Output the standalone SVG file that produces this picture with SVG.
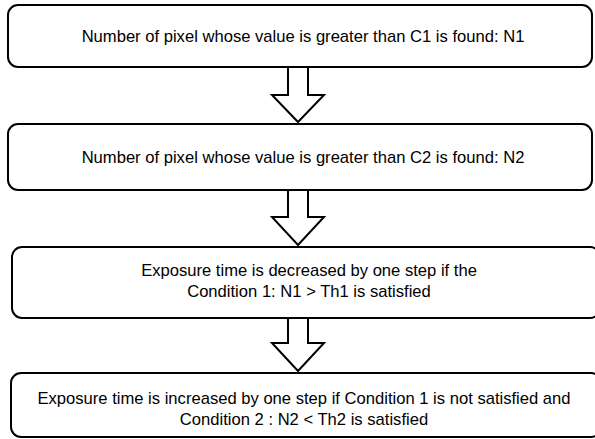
<svg xmlns="http://www.w3.org/2000/svg" width="595" height="439" viewBox="0 0 595 439">
<style>
.box{fill:#fff;stroke:#000;stroke-width:2}
.arr{fill:#fff;stroke:#000;stroke-width:2;stroke-linejoin:miter}
text{font-family:"Liberation Sans",Arial,sans-serif;font-size:16.6px;fill:#000;text-anchor:middle}
</style>
<rect width="595" height="439" fill="#fff"/>
<g id="connectors">
<path class="arr" d="M288,67 V95 H272 L298,122 L324,95 H308 V67"/>
<path class="arr" d="M288,190 V217 H272 L298,245 L324,217 H308 V190"/>
<path class="arr" d="M288,318 V343 H272 L298,371 L324,343 H308 V318"/>
</g>
<g id="n1">
<rect class="box" x="8" y="5" width="584" height="62" rx="10"/>
<text x="303" y="42">Number of pixel whose value is greater than C1 is found: N1</text>
</g>
<g id="n2">
<rect class="box" x="8" y="124" width="584" height="66" rx="10"/>
<text x="303" y="163">Number of pixel whose value is greater than C2 is found: N2</text>
</g>
<g id="n3">
<rect class="box" x="12" y="247" width="588" height="71" rx="10"/>
<text x="309" y="276">Exposure time is decreased by one step if the</text>
<text x="309" y="297">Condition 1: N1 &gt; Th1 is satisfied</text>
</g>
<g id="n4">
<rect class="box" x="11" y="373" width="590" height="64" rx="10"/>
<text x="304" y="404">Exposure time is increased by one step if Condition 1 is not satisfied and</text>
<text x="304" y="425">Condition 2 : N2 &lt; Th2 is satisfied</text>
</g>
</svg>
